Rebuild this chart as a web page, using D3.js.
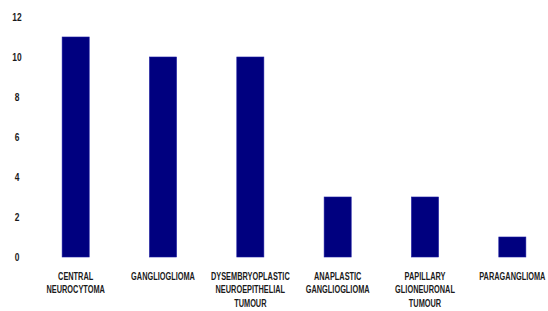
<!DOCTYPE html>
<html>
<head>
<meta charset="utf-8">
<script src="https://cdn.jsdelivr.net/npm/d3@7"></script>
<style>
  body { margin: 0; background: #fff; }
  text { font-family: "Liberation Sans", Arial, sans-serif; fill: #1a1a1a; }
</style>
</head>
<body>
<svg id="chart"></svg>
<script>
// tumour types, each label split in lines
var categories = [
  ["CENTRAL", "NEUROCYTOMA"],
  ["GANGLIOGLIOMA"],
  ["DYSEMBRYOPLASTIC", "NEUROEPITHELIAL", "TUMOUR"],
  ["ANAPLASTIC", "GANGLIOGLIOMA"],
  ["PAPILLARY", "GLIONEURONAL", "TUMOUR"],
  ["PARAGANGLIOMA"]
];
var counts = [11, 10, 10, 3, 3, 1];
var yTicks = [0, 2, 4, 6, 8, 10, 12];

var width = 548, height = 311;

var svg = d3.select("#chart")
  .attr("width", width)
  .attr("height", height);

var x = d3.scaleBand()
  .domain(d3.range(categories.length))
  .range([32, 556])
  .paddingInner(0.69)
  .paddingOuter(0.345);

var y = d3.scaleLinear()
  .domain([0, 12])
  .range([257, 17]);

// y tick labels only, no axis line
svg.append("g")
  .selectAll("text")
  .data(yTicks)
  .enter().append("text")
  .attr("transform", function(d) { return "translate(17," + y(d) + ") scale(0.8,1)"; })
  .attr("dy", "0.35em")
  .attr("text-anchor", "middle")
  .style("font-size", "10.5px")
  .style("font-weight", "bold")
  .text(function(d) { return d; });

svg.append("g")
  .selectAll("rect")
  .data(counts)
  .enter().append("rect")
  .attr("x", function(d, i) { return x(i); })
  .attr("y", function(d) { return y(d); })
  .attr("width", x.bandwidth())
  .attr("height", function(d) { return y(0) - y(d); })
  .attr("fill", "#00007f")
  .attr("stroke", "#1a1aa0")
  .attr("stroke-width", 0.6);

var labels = svg.append("g")
  .selectAll("text")
  .data(categories)
  .enter().append("text")
  .attr("text-anchor", "middle")
  .attr("transform", function(d, i) {
    return "translate(" + (x(i) + x.bandwidth() / 2) + ",280) scale(0.67,1)";
  })
  .style("font-size", "11px")
  .style("font-weight", "bold");

labels.selectAll("tspan")
  .data(function(d) { return d; })
  .enter().append("tspan")
  .attr("x", 0)
  .attr("y", function(d, j) { return j * 13.5; })
  .text(function(d) { return d; });
</script>
</body>
</html>
